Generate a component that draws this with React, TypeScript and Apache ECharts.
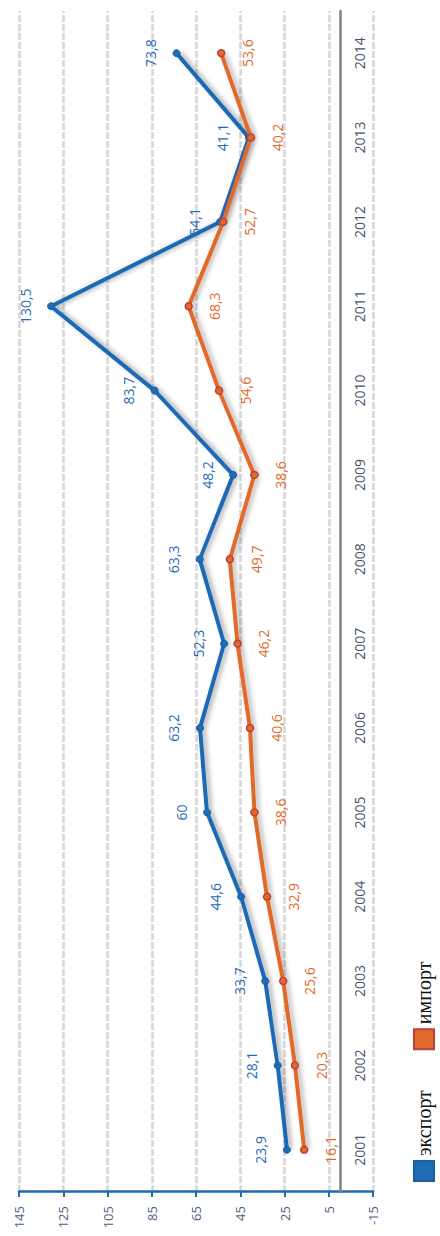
import React, { useEffect, useRef } from "react";
import * as echarts from "echarts";

const years = ["2001", "2002", "2003", "2004", "2005", "2006", "2007", "2008", "2009", "2010", "2011", "2012", "2013", "2014"];
const exportValues = [23.9, 28.1, 33.7, 44.6, 60, 63.2, 52.3, 63.3, 48.2, 83.7, 130.5, 54.1, 41.1, 73.8];
const importValues = [16.1, 20.3, 25.6, 32.9, 38.6, 40.6, 46.2, 49.7, 38.6, 54.6, 68.3, 52.7, 40.2, 53.6];
const valueTicks = [-15, 5, 25, 45, 65, 85, 105, 125, 145];
const seriesNames = ["экспорт", "импорт"];

const W = 1236;
const H = 440;
const BLUE = "#1e6bb6";
const ORANGE = "#e2692a";

const fmt = (p: any) => String(p.value).replace(".", ",");

export default function App() {
  const ref = useRef<HTMLDivElement>(null);
  useEffect(() => {
    document.body.style.margin = "0";
    document.body.style.overflow = "hidden";
    const chart = echarts.init(ref.current as HTMLDivElement, null, { renderer: "svg", width: W, height: H });
    chart.setOption({
      animation: false,
      backgroundColor: "#ffffff",
      grid: { left: 44, right: 11, top: 19, bottom: 67, containLabel: false },
      legend: {
        left: 49,
        top: 408,
        itemWidth: 20,
        itemHeight: 20,
        itemGap: 40,
        icon: "rect",
        data: seriesNames,
        textStyle: { fontFamily: "Liberation Serif", fontSize: 20, color: "#111111" },
      },
      xAxis: {
        type: "category",
        data: years,
        boundaryGap: true,
        position: "bottom",
        offset: -33,
        axisLine: { show: true, onZero: false, lineStyle: { color: "#808080", width: 2.5 } },
        axisTick: { show: false },
        axisLabel: { color: "#44546a", fontSize: 14, fontFamily: "Open Sans", margin: 12 },
        splitLine: { show: false },
      },
      yAxis: {
        type: "value",
        min: -15,
        max: 145,
        axisLine: { show: true, onZero: false, lineStyle: { color: BLUE, width: 2.5 } },
        axisTick: { show: true, inside: false, length: 5, customValues: valueTicks, lineStyle: { color: BLUE, width: 2 } },
        axisLabel: { customValues: valueTicks, color: "#4e6080", fontSize: 13, fontFamily: "Open Sans", margin: 14 },
        splitLine: { show: true, lineStyle: { color: "#d6d6d6", width: 2.5, type: [7, 2] } },
      },
      series: [
        {
          name: seriesNames[0],
          type: "line",
          data: exportValues,
          symbol: "circle",
          symbolSize: 7,
          itemStyle: { color: BLUE, borderColor: "#1a5ea3", borderWidth: 1 },
          lineStyle: { color: BLUE, width: 4, shadowColor: "rgba(0,0,0,0.35)", shadowBlur: 5, shadowOffsetY: 3 },
          label: { show: true, position: "top", distance: 15, formatter: fmt, color: BLUE, fontSize: 14, fontFamily: "Open Sans" },
          z: 3,
        },
        {
          name: seriesNames[1],
          type: "line",
          data: importValues,
          symbol: "circle",
          symbolSize: 7,
          itemStyle: { color: ORANGE, borderColor: "#b8423a", borderWidth: 1.5 },
          lineStyle: { color: ORANGE, width: 4, shadowColor: "rgba(0,0,0,0.3)", shadowBlur: 5, shadowOffsetY: 3 },
          label: { show: true, position: "bottom", distance: 15, formatter: fmt, color: ORANGE, fontSize: 14, fontFamily: "Open Sans" },
          z: 4,
        },
      ],
    });
    return () => chart.dispose();
  }, []);
  return (
    <div
      ref={ref}
      style={{
        position: "absolute",
        left: 0,
        top: 0,
        width: W,
        height: H,
        transformOrigin: "0 0",
        transform: `translateY(${W}px) rotate(-90deg)`,
      }}
    />
  );
}
